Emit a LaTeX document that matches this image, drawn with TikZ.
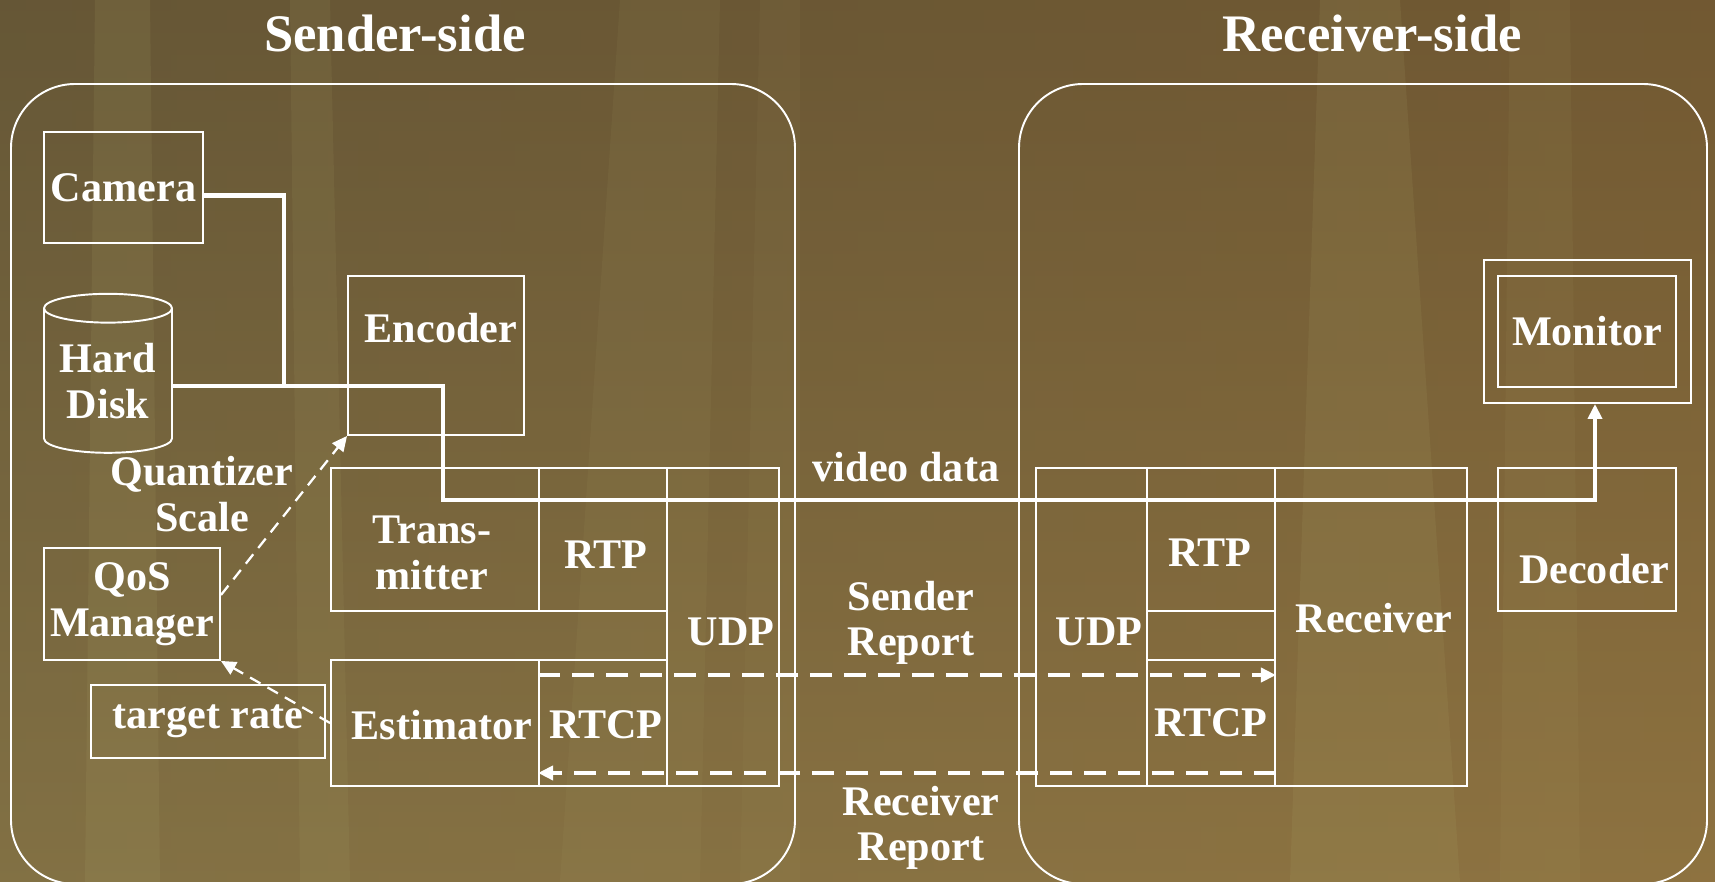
\documentclass[tikz,border=0pt]{standalone}
\usepackage{fontspec}
\setmainfont{Liberation Serif}
\usetikzlibrary{arrows.meta,shapes.geometric}
\definecolor{bgtop}{RGB}{94,80,50}
\definecolor{bgmid}{RGB}{116,100,62}
\definecolor{bgbot}{RGB}{138,120,72}
\definecolor{bgright}{RGB}{150,105,50}
\definecolor{streak}{RGB}{178,172,110}
\tikzset{
  box/.style={draw=white, line width=1.1pt, inner sep=0pt},
  sz/.style 2 args={minimum width=#1*0.02cm, minimum height=#2*0.02cm},
  txt/.style={text=white, align=center, font=\fontsize{24}{26}\selectfont\bfseries},
  title/.style={text=white, font=\fontsize{30}{32}\selectfont\bfseries},
  panel/.style={box, rounded corners=1.28cm},
  video/.style={draw=white, line width=2.3pt},
  report/.style={draw=white, line width=2.2pt, dash pattern=on 0.44cm off 0.24cm},
  ctrl/.style={draw=white, line width=1.3pt, dash pattern=on 0.24cm off 0.16cm},
  tip/.style={-{Triangle[length=0.3cm, width=0.28cm]}}
}
\begin{document}
\begin{tikzpicture}[x=0.02cm, y=-0.02cm]

  % background
  \useasboundingbox (0,0) rectangle (1715,882);
  \clip (0,0) rectangle (1715,882);
  \shade[top color=bgtop, middle color=bgmid, bottom color=bgbot] (0,0) rectangle (1715,882);
  \shade[left color=bgmid, right color=bgright, opacity=0.35] (0,0) rectangle (1715,882);
  \foreach \xa/\xb/\xc/\xd/\op in {85/160/95/150/0.12, 300/350/290/330/0.1, 560/700/620/720/0.08,
      740/800/760/800/0.06, 1290/1460/1320/1400/0.12, 1500/1580/1510/1570/0.08}
    \fill[streak, opacity=\op] (\xa,882) -- (\xb,882) -- (\xd,0) -- (\xc,0) -- cycle;

  % panels
  \node[panel, sz={784}{800}] (sendpanel) at (403,484) {};
  \node[panel, sz={688}{800}] (recvpanel) at (1363,484) {};
  \node[title] (sendtitle) at (395,33) {Sender-side};
  \node[title] (recvtitle) at (1372,33) {Receiver-side};

  % sender side
  \node[box, txt, sz={159}{111}] (cam) at (123.5,187.5) {Camera};
  \node[box, txt, cylinder, shape border rotate=90, aspect=0.3, sz={128}{159}] (hd) at (108,381) {Hard\\Disk};
  \node[box, sz={176}{159}] (enc) at (436,355.5) {};
  \node[txt] (enclabel) at (441,328) {Encoder};
  \node[box, txt, sz={176}{112}] (qos) at (132,604) {QoS\\Manager};
  \node[box, txt, sz={234}{73}] (tgt) at (208,721.5) {target rate};
  \node[txt] (qlabel) at (202,494) {Quantizer\\Scale};

  \node[box, sz={208}{143}] (trans) at (435,539.5) {};
  \node[txt] (translabel) at (432,553) {Trans-\\mitter};
  \node[box, sz={128}{143}] (srtp) at (603,539.5) {};
  \node[txt] (srtplabel) at (606,555) {RTP};
  \node[box, sz={112}{318}] (sudp) at (723,627) {};
  \node[txt] (sudplabel) at (731,632) {UDP};
  \node[box, sz={208}{126}] (est) at (435,723) {};
  \node[txt] (estlabel) at (442,725) {Estimator};
  \node[box, sz={128}{126}] (srtcp) at (603,723) {};
  \node[txt] (srtcplabel) at (606,725) {RTCP};

  % receiver side
  \node[box, sz={111}{318}] (rudp) at (1091.5,627) {};
  \node[txt] (rudplabel) at (1099,632) {UDP};
  \node[box, sz={128}{143}] (rrtp) at (1211,539.5) {};
  \node[txt] (rrtplabel) at (1210,553) {RTP};
  \node[box, sz={128}{49}] (rmid) at (1211,635.5) {};
  \node[box, txt, sz={128}{126}] (rrtcp) at (1211,723) {RTCP};
  \node[box, sz={192}{318}] (recv) at (1371,627) {};
  \node[txt] (recvlabel) at (1374,618) {Receiver};
  \node[box, sz={207}{143}] (monout) at (1587.5,331.5) {};
  \node[box, txt, sz={178}{111}] (mon) at (1587,331.5) {Monitor};
  \node[box, sz={178}{143}] (dec) at (1587,539.5) {};
  \node[txt] (declabel) at (1594,569) {Decoder};

  \node[txt] (vlabel) at (906,467) {video data};
  \node[txt] (srlabel) at (911,623) {Sender\\Report};
  \node[txt] (rrlabel) at (921,828) {Receiver\\Report};

  % video data path
  \coordinate (jn) at (284,386);
  \coordinate (bend) at (443,500);
  \draw[video] ([yshift=-0.16cm]cam.east) -| (jn);
  \draw[video, tip] (hd.east |- jn) -| (bend) -| ([xshift=0.15cm]monout.south);

  % RTCP reports
  \draw[report, tip] ([yshift=-0.32cm]srtcp.north west) -- ([yshift=-0.32cm]rrtcp.north east);
  \draw[report, tip] ([yshift=0.28cm]rrtcp.south east) -- ([yshift=0.28cm]srtcp.south west);

  % rate control
  \draw[ctrl, tip] ([yshift=0.18cm]qos.east) -- (enc.south west);
  \draw[ctrl, tip] (est.west) -- (qos.south east);
\end{tikzpicture}
\end{document}
